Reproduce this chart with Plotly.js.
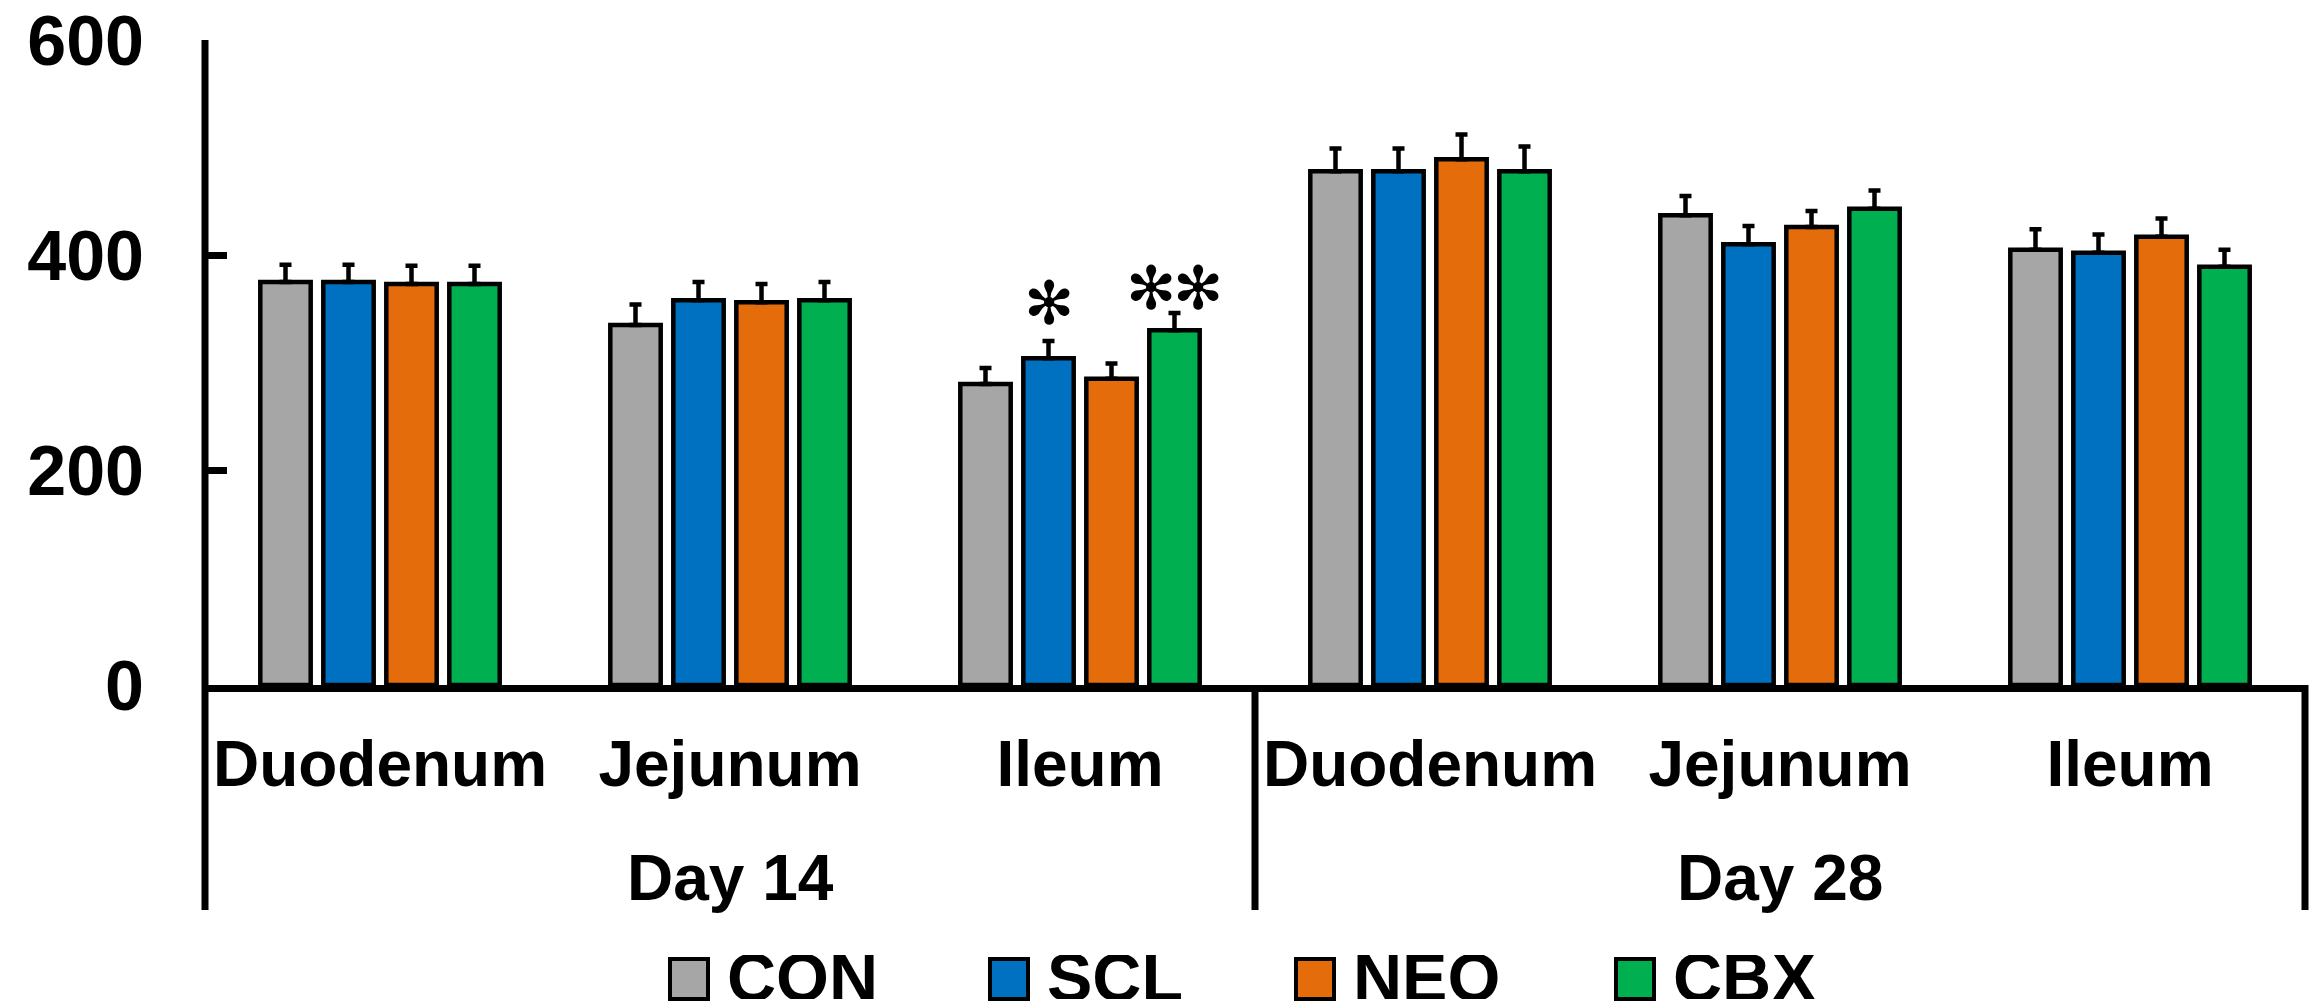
<!DOCTYPE html>
<html>
<head>
<meta charset="utf-8">
<script src="https://cdn.plot.ly/plotly-3.0.1.min.js"></script>
<style>
  html, body { margin: 0; padding: 0; background: #ffffff; }
  #chart { width: 2310px; height: 1008px; }
</style>
</head>
<body>
<div id="chart"></div>
<script>
// ---- data ----
const days = ["Day 14", "Day 28"];
const segments = ["Duodenum", "Jejunum", "Ileum"];
const categories = ["D14 Duodenum", "D14 Jejunum", "D14 Ileum", "D28 Duodenum", "D28 Jejunum", "D28 Ileum"];
const tickLabels = ["Duodenum", "Jejunum", "Ileum", "Duodenum", "Jejunum", "Ileum"];
const groups = ["CON", "SCL", "NEO", "CBX"];
const colors = ["#A6A6A6", "#0070C0", "#E46C0A", "#00B050"];
const conVals = [375, 335, 280, 478, 437, 405];
const conErr  = [16, 19, 15, 21, 18, 19];
const sclVals = [375, 358, 304, 478, 410, 402];
const sclErr  = [16, 17, 16, 21, 17, 17];
const neoVals = [373, 356, 285, 489, 426, 417];
const neoErr  = [17, 17, 14, 23, 15, 17];
const cbxVals = [373, 358, 330, 478, 443, 389];
const cbxErr  = [17, 17, 16, 23, 17, 16];
const yTicks = [0, 200, 400, 600];
// significance marks: [group index, category index, number of stars]
const sigMarks = [[1, 2, 1], [3, 2, 2]];

const vals = [conVals, sclVals, neoVals, cbxVals];
const errs = [conErr, sclErr, neoErr, cbxErr];
const FONT = "Liberation Sans, Arial, sans-serif";

const traces = groups.map((g, i) => ({
  type: "bar",
  name: g,
  x: categories,
  y: vals[i],
  marker: { color: colors[i], line: { color: "#000000", width: 4.5 } },
  error_y: { type: "data", symmetric: false, array: errs[i], arrayminus: errs[i].map(() => 0),
             color: "#000000", thickness: 4.5, width: 6 },
  showlegend: false,
  hoverinfo: "skip"
}));

// pixel helpers for paper coordinates
const L = 205, W = 2100, T = 40, H = 645;
const px = v => (v - L) / W;
const py = v => (T + H - v) / H;

const shapes = [];
const lineStyle = { color: "#000000", width: 7 };
// left axis line and group dividers extending below the axis
[0, 0.5, 1].forEach(xp => {
  shapes.push({ type: "line", xref: "paper", yref: "paper", x0: xp, x1: xp,
    y0: xp === 0 ? 1 : 0, y1: py(910), line: lineStyle });
});

const annotations = [];
days.forEach((d, i) => {
  annotations.push({ xref: "paper", yref: "paper", x: 0.25 + 0.5 * i, y: py(878),
    text: "<b>" + d + "</b>", showarrow: false, xanchor: "center", yanchor: "middle",
    font: { family: FONT, size: 64, color: "#000000" } });
});
const sigLift = [38, 25];   // px gap above error cap (style)
sigMarks.forEach(([gi, ci, n], k) => {
  for (let s = 0; s < n; s++) {
    annotations.push({ xref: "x", yref: "y", x: categories[ci], y: vals[gi][ci] + errs[gi][ci],
      xshift: (gi - 1.5) * 63 + (s - (n - 1) / 2) * 47, yshift: sigLift[k],
      text: "✻", showarrow: false, xanchor: "center", yanchor: "middle",
      font: { family: "DejaVu Sans", size: 60, color: "#000000" } });
  }
});

// manual legend (large boxes)
const legendBoxX = [670, 990, 1296, 1616];
groups.forEach((g, i) => {
  const x0 = legendBoxX[i];
  shapes.push({ type: "rect", xref: "paper", yref: "paper",
    x0: px(x0), x1: px(x0 + 38), y0: py(999), y1: py(959),
    fillcolor: colors[i], line: { color: "#000000", width: 4 } });
  annotations.push({ xref: "paper", yref: "paper", x: px(x0 + 56), y: py(977),
    text: "<b>" + g + "</b>", showarrow: false, xanchor: "left", yanchor: "middle",
    height: 44, valign: "middle", borderpad: 0,
    font: { family: FONT, size: 68, color: "#000000" } });
});

const layout = {
  width: 2310, height: 1008,
  margin: { l: L, r: 2310 - L - W, t: T, b: 1008 - T - H, pad: 0 },
  paper_bgcolor: "#ffffff", plot_bgcolor: "#ffffff",
  barmode: "group", bargap: 0.28, bargroupgap: 0.2,
  showlegend: false,
  xaxis: {
    type: "category", tickvals: categories, ticktext: tickLabels.map(t => "<b>" + t + "</b>"),
    showline: true, linecolor: "#000000", linewidth: 7, ticks: "", showgrid: false, zeroline: false,
    tickfont: { family: FONT, size: 64, color: "#000000" }, ticklabelstandoff: 17,
    range: [-0.5, 5.5], fixedrange: true
  },
  yaxis: {
    range: [0, 600], tickvals: yTicks, ticktext: yTicks.map(t => "<b>" + t + "</b>"),
    showline: false, showgrid: false, zeroline: false,
    ticks: "inside", ticklen: 22, tickwidth: 7, tickcolor: "#000000",
    tickfont: { family: FONT, size: 70, color: "#000000" }, ticklabelstandoff: 60,
    fixedrange: true
  },
  shapes: shapes,
  annotations: annotations
};

Plotly.newPlot("chart", traces, layout, { staticPlot: true, displayModeBar: false });
</script>
</body>
</html>
